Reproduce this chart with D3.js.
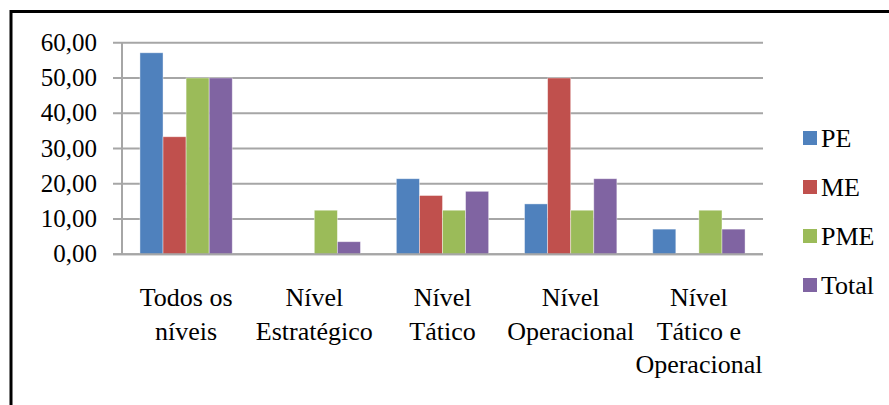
<!DOCTYPE html>
<html>
<head>
<meta charset="utf-8">
<script src="https://cdn.jsdelivr.net/npm/d3@7"></script>
<style>
	body { margin: 0; background: #fff; }
</style>
</head>
<body>
<div id="chart"></div>
<script>
// DATA
const categories = [
	["Todos os", "níveis"],
	["Nível", "Estratégico"],
	["Nível", "Tático"],
	["Nível", "Operacional"],
	["Nível", "Tático e", "Operacional"]
];
const seriesNames = ["PE", "ME", "PME", "Total"];
const peValues = [57.14, 0, 21.43, 14.29, 7.14];
const meValues = [33.33, 0, 16.67, 50.00, 0];
const pmeValues = [50.00, 12.50, 12.50, 12.50, 12.50];
const totalValues = [50.00, 3.57, 17.86, 21.43, 7.14];
const yTicks = [0, 10, 20, 30, 40, 50, 60];
const colors = ["#4F81BD", "#C0504D", "#9BBB59", "#8064A2"];

const FONT = "'Liberation Serif', 'DejaVu Serif', serif";

// SETUP
const W = 889, H = 405;
const plot = { left: 122, right: 763, top: 42.7, bottom: 254.3 };

const svg = d3.select("#chart")
	.append("svg")
		.attr("width", W)
		.attr("height", H);

// outer frame (only top and left edges visible in the picture)
svg.append("rect")
	.attr("x", 11)
	.attr("y", 11.5)
	.attr("width", W + 20)
	.attr("height", H + 20)
	.attr("fill", "none")
	.attr("stroke", "#000")
	.attr("stroke-width", 3);

// SCALES
const catIndex = categories.map((d, i) => i);
const xScale = d3.scaleBand()
	.domain(catIndex)
	.range([plot.left, plot.right])
	.paddingInner(0.28)
	.paddingOuter(0.14);

const xSub = d3.scaleBand()
	.domain(seriesNames)
	.range([0, xScale.bandwidth()]);

const yScale = d3.scaleLinear()
	.domain([0, 60])
	.range([plot.bottom, plot.top]);

const colorScale = d3.scaleOrdinal()
	.domain(seriesNames)
	.range(colors);

// GRIDLINES + Y AXIS
const fmt = d => d3.format(".2f")(d).replace(".", ",");

svg.append("g")
	.selectAll("line")
	.data(yTicks)
	.join("line")
		.attr("x1", plot.left - 9)
		.attr("x2", plot.right)
		.attr("y1", d => yScale(d))
		.attr("y2", d => yScale(d))
		.attr("stroke", "#a6a6a6")
		.attr("stroke-width", 2);

svg.append("line")
	.attr("x1", plot.left)
	.attr("x2", plot.left)
	.attr("y1", yScale(60))
	.attr("y2", yScale(0))
	.attr("stroke", "#a6a6a6")
	.attr("stroke-width", 2);

svg.append("g")
	.selectAll("text")
	.data(yTicks)
	.join("text")
		.attr("x", 97)
		.attr("y", d => yScale(d) + 8)
		.attr("text-anchor", "end")
		.style("font-family", FONT)
		.style("font-size", "25px")
		.style("fill", "#000")
		.text(fmt);

// BARS
const rows = catIndex.map(i => ({
	i,
	values: [peValues[i], meValues[i], pmeValues[i], totalValues[i]]
}));

svg.append("g")
	.selectAll("g")
	.data(rows)
	.join("g")
		.attr("transform", d => `translate(${xScale(d.i)},0)`)
	.selectAll("rect")
	.data(d => d.values.map((v, k) => ({ name: seriesNames[k], value: v })).filter(d => d.value > 0))
	.join("rect")
		.attr("x", d => xSub(d.name))
		.attr("y", d => yScale(d.value))
		.attr("width", xSub.bandwidth())
		.attr("height", d => yScale(0) - yScale(d.value))
		.attr("fill", d => colorScale(d.name))
		.attr("stroke", "#fff")
		.attr("stroke-opacity", 0.5)
		.attr("stroke-width", 0.8);

// re-draw the baseline on top of the bars
svg.append("line")
	.attr("x1", plot.left - 9)
	.attr("x2", plot.right)
	.attr("y1", yScale(0))
	.attr("y2", yScale(0))
	.attr("stroke", "#a6a6a6")
	.attr("stroke-width", 2);

// CATEGORY LABELS
const labels = svg.append("g")
	.selectAll("text")
	.data(rows)
	.join("text")
		.attr("text-anchor", "middle")
		.style("font-family", FONT)
		.style("font-size", "26px")
		.style("fill", "#000")
		.attr("transform", d => `translate(${xScale(d.i) + xScale.bandwidth() / 2},306)`);

labels.selectAll("tspan")
	.data(d => categories[d.i])
	.join("tspan")
		.attr("x", 0)
		.attr("y", (d, k) => k * 33.7)
		.text(d => d);

// LEGEND
const legend = svg.append("g")
	.selectAll("g")
	.data(seriesNames)
	.join("g")
		.attr("transform", (d, k) => `translate(803,${131 + k * 49})`);

legend.append("rect")
	.attr("width", 14)
	.attr("height", 14)
	.attr("fill", d => colorScale(d));

legend.append("text")
	.attr("x", 18)
	.attr("y", 16)
	.style("font-family", FONT)
	.style("font-size", "26px")
	.style("fill", "#000")
	.text(d => d);
</script>
</body>
</html>
